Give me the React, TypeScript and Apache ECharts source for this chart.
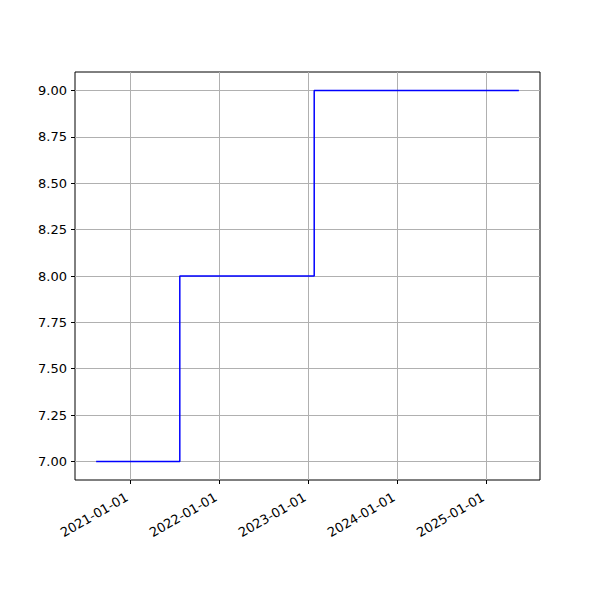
import React, { useEffect, useRef } from "react";
import * as echarts from "echarts";

const dates: string[] = ["2020-08-14", "2021-07-23", "2023-01-25", "2025-05-13"];
const values: number[] = [7, 8, 9, 9];
const xTickDates: string[] = ["2021-01-01", "2022-01-01", "2023-01-01", "2024-01-01", "2025-01-01"];
const yTicks: number[] = [7.0, 7.25, 7.5, 7.75, 8.0, 8.25, 8.5, 8.75, 9.0];

const toTs = (d: string) => {
  const [y, m, day] = d.split("-").map(Number);
  return Date.UTC(y, m - 1, day);
};
const fmt = (ts: number) => {
  const d = new Date(ts);
  const p = (n: number) => String(n).padStart(2, "0");
  return `${d.getUTCFullYear()}-${p(d.getUTCMonth() + 1)}-${p(d.getUTCDate())}`;
};

export default function App() {
  const ref = useRef<HTMLDivElement>(null);
  useEffect(() => {
    if (!ref.current) return;
    const chart = echarts.init(ref.current, undefined, { renderer: "svg" });
    const xs = dates.map(toTs);
    const xMin = Math.min(...xs);
    const xMax = Math.max(...xs);
    const xPad = (xMax - xMin) * 0.05;
    const yMin = Math.min(...values);
    const yMax = Math.max(...values);
    const yPad = (yMax - yMin) * 0.05;
    const font = "DejaVu Sans";
    chart.setOption({
      animation: false,
      backgroundColor: "#ffffff",
      grid: {
        left: 75,
        right: 60,
        top: 72,
        bottom: 120,
        show: true,
        borderColor: "#000000",
        borderWidth: 1,
        backgroundColor: "transparent",
      },
      xAxis: {
        type: "value",
        min: xMin - xPad,
        max: xMax + xPad,
        axisLine: { show: false },
        axisTick: {
          show: true,
          length: 4,
          lineStyle: { color: "#000", width: 1 },
          customValues: xTickDates.map(toTs),
        },
        axisLabel: {
          customValues: xTickDates.map(toTs),
          formatter: (v: number) => fmt(v),
          rotate: 30,
          color: "#000",
          fontFamily: font,
          fontSize: 13,
          margin: 14,
          padding: [0, 4, 0, 0],
          hideOverlap: false,
        },
        splitLine: { show: true, lineStyle: { color: "#b0b0b0", width: 1 } },
      },
      yAxis: {
        type: "value",
        min: yMin - yPad,
        max: yMax + yPad,
        axisLine: { show: false },
        axisTick: {
          show: true,
          length: 4,
          lineStyle: { color: "#000", width: 1 },
          customValues: yTicks,
        },
        axisLabel: {
          customValues: yTicks,
          formatter: (v: number) => v.toFixed(2),
          color: "#000",
          fontFamily: font,
          fontSize: 13,
          margin: 8,
        },
        splitLine: { show: true, lineStyle: { color: "#b0b0b0", width: 1 } },
      },
      series: [
        {
          type: "line",
          step: "end",
          data: xs.map((x, i) => [x, values[i]]),
          showSymbol: false,
          symbol: "none",
          lineStyle: { color: "#0000ff", width: 1.5 },
          z: 3,
        },
      ],
    });
    return () => chart.dispose();
  }, []);
  return (
    <div
      ref={ref}
      style={{ position: "absolute", left: 0, top: 0, width: 600, height: 600 }}
    />
  );
}
